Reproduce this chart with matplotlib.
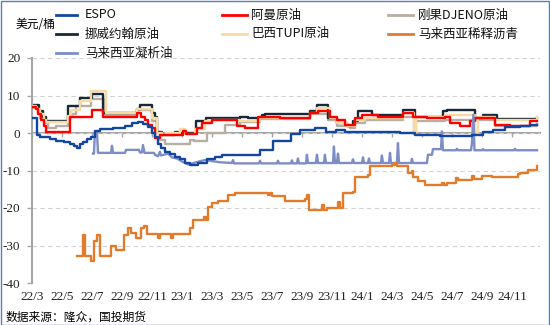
"""Crude oil spreads chart, recreated with matplotlib."""

import matplotlib
matplotlib.use("Agg")
import matplotlib.pyplot as plt
from matplotlib.lines import Line2D
from matplotlib.patches import Rectangle

plt.rcParams["font.family"] = ["Noto Sans CJK SC", "DejaVu Sans"]

# x = months since 2022/3
MONTH_TICKS = list(range(0, 33, 2))
MONTH_LABELS = ["22/3", "22/5", "22/7", "22/9", "22/11", "23/1", "23/3", "23/5",
                "23/7", "23/9", "23/11", "24/1", "24/3", "24/5", "24/7", "24/9", "24/11"]
Y_TICKS = [-40, -30, -20, -10, 0, 10, 20]

ESPO = [(0, 4), (0.33, -0.5), (0.53, -1), (1.2, -1.5), (1.6, -2), (2.13, -2.5),
        (2.53, -3), (2.8, -3.5), (3.0, -4), (3.2, -3), (3.4, -2.5), (3.67, -1.5),
        (3.93, -1), (4.2, 0.5), (4.53, 1), (5.4, 1.3), (6.2, 2), (6.67, 2.7),
        (7.07, 3), (7.4, 2.5), (7.73, 1.5), (8.0, 0), (8.2, -1), (8.4, -3),
        (8.6, -4), (8.87, -5), (9.2, -5.5), (9.53, -6.5), (9.87, -7), (10.2, -8),
        (10.53, -8.5), (11.07, -8), (11.67, -7), (12.2, -6.5), (12.67, -5.8),
        (15.2, -4.4), (16.07, -2.1), (17.27, -0.3), (17.87, 0.9), (18.87, 1.3),
        (19.6, 0.4), (20.27, 0.9), (20.87, 0.3), (24.53, 0), (25.53, -0.6),
        (27.2, -0.9), (29.33, -0.4), (30.07, 0.4), (30.73, 0.9), (31.53, 1.5),
        (32.53, 1.8), (33.2, 2.2), (33.67, 2.2)]

OMAN = [(0, 7), (0.27, 6.5), (0.4, 5), (0.6, 3.5), (0.8, 2), (0.93, 0.2),
        (2.53, 4.2), (4.0, 6.2), (4.73, 4.2), (7.0, 5.3), (7.27, 4.2), (7.53, 3.5),
        (7.73, 2.2), (8.0, 1.3), (8.2, -1.3), (8.53, -0.5), (8.87, -0.6),
        (10.07, 0.5), (10.27, -0.3), (11.0, 1.3), (11.33, 2.7), (12.0, 3.6),
        (13.67, 1.8), (14.2, 1.3), (15.07, 4.4), (16.53, 4.1), (18.53, 5.3),
        (19.07, 5.8), (19.87, 4.4), (20.33, 3.6), (20.87, 2.2), (21.53, 4.0),
        (22.0, 4.9), (23.07, 4.4), (24.73, 5.3), (25.4, 4.4), (26.33, 4.0),
        (27.53, 4.4), (27.87, 2.7), (28.53, 1.8), (29.2, 3.1), (29.53, 4.0),
        (30.87, 2.2), (31.87, 1.8), (33.2, 3.1), (33.67, 3.1)]

DJENO = [(0, 6.7), (0.27, 6.5), (0.53, 4), (0.87, 2.7), (1.07, 1.3), (1.6, 1.8),
         (2.4, 4.5), (2.67, 5.1), (2.93, 7.1), (3.93, 9.1), (4.87, 4.9), (7.0, 6.2),
         (8.0, 3.1), (8.33, 0.4), (8.53, -1.8), (8.87, -2.9), (10.53, -1.8),
         (10.8, -2.0), (11.67, 0.0), (12.87, 2.2), (13.87, 2.9), (15.2, 3.8),
         (18.53, 5.1), (19.73, 3.6), (20.33, 1.8), (21.2, 1.3), (21.53, 2.7),
         (22.2, 3.6), (24.73, 4.4), (25.47, -0.3), (25.6, 3.1), (27.53, 3.6),
         (30.87, 2.0), (33.67, 2.5)]

JOHAN = [(0, 7.6), (0.47, 5.8), (0.73, 4.4), (0.93, 3.1), (2.4, 7.1), (3.2, 9.3),
         (4.0, 10.5), (4.73, 5.3), (7.0, 6.5), (7.2, 7.6), (8.0, 5.3), (8.2, 4.4),
         (8.33, 0.4), (8.67, -0.4), (9.53, 0.4), (9.73, -0.1), (10.93, 3.1),
         (11.6, 4.0), (13.87, 4.4), (14.4, 4.0), (15.33, 4.9), (15.53, 5.1),
         (18.53, 5.8), (19.0, 7.6), (19.73, 4.0), (20.33, 2.7), (21.0, 1.8),
         (21.4, 3.1), (21.73, 5.8), (22.67, 4.9), (24.73, 6.2), (25.53, 4.4),
         (27.4, 5.8), (27.67, 6.2), (29.53, 4.0), (30.07, 4.9), (31.0, 3.8),
         (33.67, 4.0)]

TUPI = [(0, 7.1), (0.27, 6.5), (0.53, 5), (0.8, 3.6), (0.93, 2.9), (2.4, 4.5),
        (2.6, 6.2), (3.2, 8.5), (3.93, 11.1), (4.93, 5.3), (7.0, 6.5), (8.0, 4.0),
        (8.33, 0.1), (8.67, -0.5), (8.93, 0.1), (9.87, 1.0), (10.2, -0.3),
        (10.87, 1.0), (11.53, 3.1), (12.0, 3.6), (13.87, 3.1), (15.2, 4.0),
        (18.53, 5.3), (19.0, 6.7), (19.87, 4.0), (20.33, 2.7), (21.0, 1.8),
        (21.53, 3.6), (22.2, 4.0), (24.73, 5.3), (25.47, 0.0), (25.6, 4.4),
        (27.53, 4.9), (29.53, 0.4), (29.73, 4.4), (30.87, 3.6), (33.67, 4.4)]

BITUMEN = [(3.0, -32.9), (3.4, -27.1), (3.53, -32.9), (3.93, -34.2), (4.13, -28.9),
           (4.33, -27.1), (4.53, -32.9), (5.27, -30.2), (5.6, -31.1), (6.13, -27.1),
           (6.4, -25.3), (6.6, -26.7), (6.93, -28.0), (7.27, -25.3), (7.47, -24.9),
           (7.67, -26.9), (8.4, -28.0), (8.53, -26.9), (9.27, -28.0), (9.4, -26.9),
           (10.53, -25.3), (10.73, -23.1), (11.47, -22.5), (11.6, -23.1),
           (11.73, -19.6), (12.0, -18.7), (12.4, -18.0), (13.07, -16.4),
           (13.53, -16.0), (15.73, -16.5), (15.87, -16.0), (16.0, -16.9),
           (16.87, -18.2), (18.2, -17.5), (18.33, -16.5), (18.47, -20.4),
           (19.33, -19.1), (19.47, -20.4), (19.67, -20.0), (20.4, -18.5),
           (20.53, -20.0), (20.73, -16.0), (21.4, -15.6), (21.53, -11.6),
           (22.4, -11.1), (22.53, -8.9), (24.0, -8.4), (24.2, -8.0), (24.33, -8.9),
           (25.07, -10.7), (25.33, -10.2), (25.4, -11.6), (25.73, -12.9),
           (26.2, -13.8), (27.33, -13.3), (27.47, -13.8), (27.67, -13.3),
           (28.27, -12.0), (28.4, -12.4), (29.33, -11.5), (29.47, -12.3),
           (30.0, -11.4), (30.67, -11.8), (32.4, -11.0), (32.53, -10.7),
           (33.07, -9.8), (33.67, -8.9)]

# condensate is drawn point to point (daily series with sharp spikes)
CONDENSATE = [(4.07, -5.5), (4.13, -5.5), (4.2, 0.4), (4.33, 0.4), (4.4, -5.3),
              (5.27, -5.3), (5.33, -3.4), (5.4, -5.3), (6.2, -5.3), (6.27, -4.5),
              (7.13, -4.5), (7.2, -5.2), (7.33, -5.2), (7.4, -3.2), (7.5, -5.3),
              (8.13, -5.3), (8.2, -5.8), (8.4, -6.2), (8.53, -5.0), (8.6, -6.0),
              (9.07, -5.5), (9.33, -6.5), (9.67, -6.8), (10.0, -7.6), (10.4, -8.4),
              (11.13, -7.6), (11.53, -7.2), (12.53, -7.8), (13.33, -8.0), (13.4, -7.2),
              (13.47, -8.1), (15.13, -8.1), (15.2, -7.4), (15.27, -8.1), (16.33, -8.1),
              (16.4, -7.4), (16.47, -8.1), (17.27, -8.1), (17.33, -7.3), (17.4, -8.1),
              (17.67, -8.1), (17.73, -6.8), (17.8, -8.1), (18.27, -8.1), (18.33, -5.8),
              (18.4, -8.0), (18.93, -8.0), (19.0, -5.8), (19.07, -8.0), (19.47, -8.0),
              (19.53, -5.8), (19.6, -8.0), (20.07, -8.0), (20.13, -3.6), (20.2, -8.0),
              (20.33, -8.0), (20.4, -5.5), (20.47, -8.0), (21.33, -8.0), (21.4, -7.0),
              (21.47, -8.0), (22.0, -8.0), (22.07, -6.5), (22.13, -8.0), (22.4, -8.0),
              (22.47, -6.8), (22.53, -8.0), (23.27, -8.0), (23.33, -6.0), (23.4, -8.0),
              (23.8, -8.0), (23.87, -5.3), (23.93, -8.0), (24.33, -8.0), (24.4, -2.7),
              (24.47, -8.0), (25.27, -8.0), (25.33, -6.9), (25.4, -8.0), (26.33, -8.0),
              (26.4, -5.8), (26.67, -5.8), (26.73, -4.3), (27.27, -4.3), (27.33, 0.4),
              (27.4, -4.6), (28.27, -4.6), (28.33, -4.2), (28.4, -4.6), (29.27, -4.6),
              (29.33, -2.9), (29.43, 4.9), (29.5, -4.6), (30.0, -4.6), (30.07, -4.3),
              (30.13, -4.6), (32.13, -4.6), (32.2, -4.2), (32.27, -4.6), (33.67, -4.6)]

# (name, data, colour, zorder, stepped) in legend order
SERIES = [
    ("ESPO", ESPO, "#1446a0", 5, True),
    ("阿曼原油", OMAN, "#ff0000", 4, True),
    ("刚果DJENO原油", DJENO, "#b8aea4", 1, True),
    ("挪威约翰原油", JOHAN, "#172838", 2, True),
    ("巴西TUPI原油", TUPI, "#f8dba4", 3, True),
    ("马来西亚稀释沥青", BITUMEN, "#e27c2c", 6, True),
    ("马来西亚凝析油", CONDENSATE, "#7d8dc6", 4.5, False),
]

W, H = 550, 325
fig = plt.figure(figsize=(W / 100, H / 100), dpi=100)
ax = fig.add_axes([32 / W, 1 - 283 / H, (540 - 32) / W, (283 - 58) / H])

for name, data, color, z, stepped in SERIES:
    t = [p[0] for p in data]
    v = [p[1] for p in data]
    ds = "steps-post" if stepped else "default"
    ax.plot(t, v, drawstyle=ds, color=color, linewidth=1.7, zorder=z)

ax.set_xlim(0, 33.87)
ax.set_ylim(-40, 20)
serif = dict(fontfamily="Liberation Serif", fontsize=9.5, color="#222222")
ax.set_yticks(Y_TICKS)
ax.set_yticklabels([str(v) for v in Y_TICKS], **serif)
ax.set_xticks(MONTH_TICKS)
ax.set_xticklabels(MONTH_LABELS, **serif)

ax.tick_params(axis="x", length=0, pad=6)
ax.tick_params(axis="y", length=3.5, width=1, color="#a6a6a6", pad=5)
for s in ("top", "right", "bottom"):
    ax.spines[s].set_visible(False)
ax.spines["left"].set_color("#a6a6a6")
ax.spines["left"].set_linewidth(1.5)
ax.grid(axis="y", linestyle=(0, (4, 3)), color="#d4d4d4", linewidth=0.8)
ax.set_axisbelow(True)

# zero line with its own small tick marks
zero = ax.secondary_xaxis(0, transform=ax.transData)
zero.set_xticks(MONTH_TICKS)
zero.tick_params(axis="x", length=3, width=1, color="#a6a6a6", labelbottom=False)
for s in ("top", "right", "left"):
    zero.spines[s].set_visible(False)
zero.spines["bottom"].set_color("#a6a6a6")
zero.spines["bottom"].set_linewidth(1.5)

# legend, laid out by hand like the original
cols = [(56, 77, 85), (222, 247, 251), (388, 413, 418)]
rows = [15, 34, 53]
for i, (name, data, color, z, stepped) in enumerate(SERIES):
    r, c = divmod(i, 3)
    x0, x1, xt = cols[c]
    y = 1 - rows[r] / H
    fig.add_artist(Line2D([x0 / W, x1 / W], [y, y], color=color, linewidth=2,
                          transform=fig.transFigure))
    fig.text(xt / W, y, name, fontsize=9, va="center", ha="left", color="#111111")

fig.text(16 / W, 1 - 25 / H, "美元/桶", fontsize=8.5, va="center", ha="left")
fig.text(6 / W, 1 - 317 / H, "数据来源：隆众，国投期货", fontsize=8.5, va="center", ha="left")

fig.add_artist(Rectangle((0.5 / W, 0.5 / H), 1 - 1.5 / W, 1 - 1.5 / H, fill=False,
                         edgecolor="#5b7fb8", linewidth=1, transform=fig.transFigure))

fig.savefig("out.png", dpi=100)
